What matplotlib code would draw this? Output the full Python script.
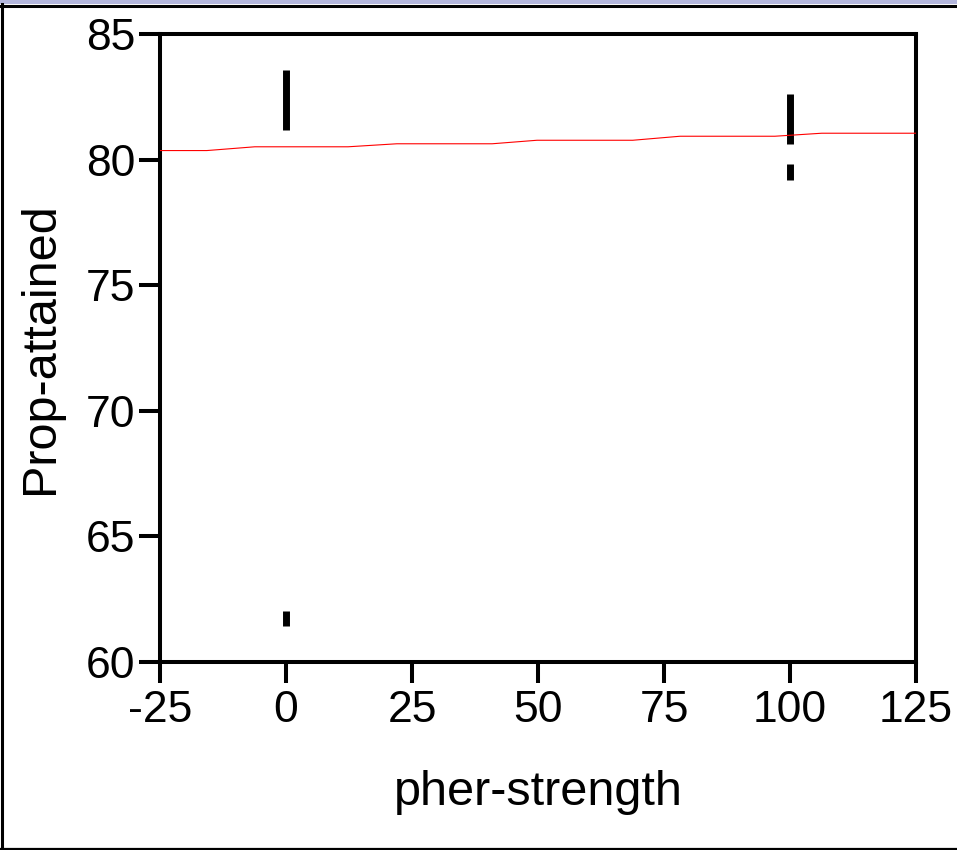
import matplotlib
matplotlib.use("Agg")
import matplotlib.pyplot as plt
from matplotlib.patches import Rectangle
from matplotlib.lines import Line2D

plt.rcParams['font.family'] = ['Liberation Sans', 'DejaVu Sans']
plt.rcParams['axes.unicode_minus'] = False

# fitted line (red)
fit_x = [-25, -15.7, -6.2, 12.3, 22.0, 40.9, 49.8, 68.8, 78.2, 97.0, 106.3, 125]
fit_y = [80.36, 80.36, 80.51, 80.51, 80.63, 80.63, 80.77, 80.77, 80.93, 80.93, 81.05, 81.05]

# observed value clusters (black bars)
obs_x = [0, 0, 100, 100]
obs_lo = [81.18, 61.43, 80.61, 79.19]
obs_hi = [83.57, 62.04, 82.61, 79.82]

x_ticks = [-25, 0, 25, 50, 75, 100, 125]
y_ticks = [60, 65, 70, 75, 80, 85]

fig = plt.figure(figsize=(9.57, 8.5), dpi=100)
ax = fig.add_axes([160/957, 1-662/850, (916-160)/957, (662-34)/850])

ax.vlines(obs_x, obs_lo, obs_hi, colors='black', linewidth=5, zorder=2,
          capstyle='butt')
ax.plot(fit_x, fit_y, color='#ff0000', linewidth=0.8, zorder=3)

ax.set_xlim(-25, 125)
ax.set_ylim(60, 85)
ax.set_xticks(x_ticks)
ax.set_yticks(y_ticks)
ax.tick_params(axis='both', direction='out', length=15, width=2.9,
               labelsize=32, pad=3, color='black')
ax.tick_params(axis='x', pad=5)
for s in ax.spines.values():
    s.set_linewidth(2.9)
    s.set_color('black')

ax.set_xlabel('pher-strength', fontsize=35, labelpad=28)
ax.set_ylabel('Prop-attained', fontsize=35, labelpad=16)

# window frame decorations
fig.patches.append(Rectangle((0, 1-4/850), 1, 4/850, transform=fig.transFigure,
                             facecolor='#b3b6dc', edgecolor='none', zorder=0))
fig.lines.append(Line2D([0, 1], [1-5.5/850, 1-5.5/850], transform=fig.transFigure,
                        color='black', linewidth=2.2))
fig.lines.append(Line2D([1.5/957, 1.5/957], [0, 1-4/850], transform=fig.transFigure,
                        color='black', linewidth=2.2))
fig.lines.append(Line2D([0, 1], [1/850, 1/850], transform=fig.transFigure,
                        color='black', linewidth=1.6))

fig.savefig('out.png', dpi=100)
